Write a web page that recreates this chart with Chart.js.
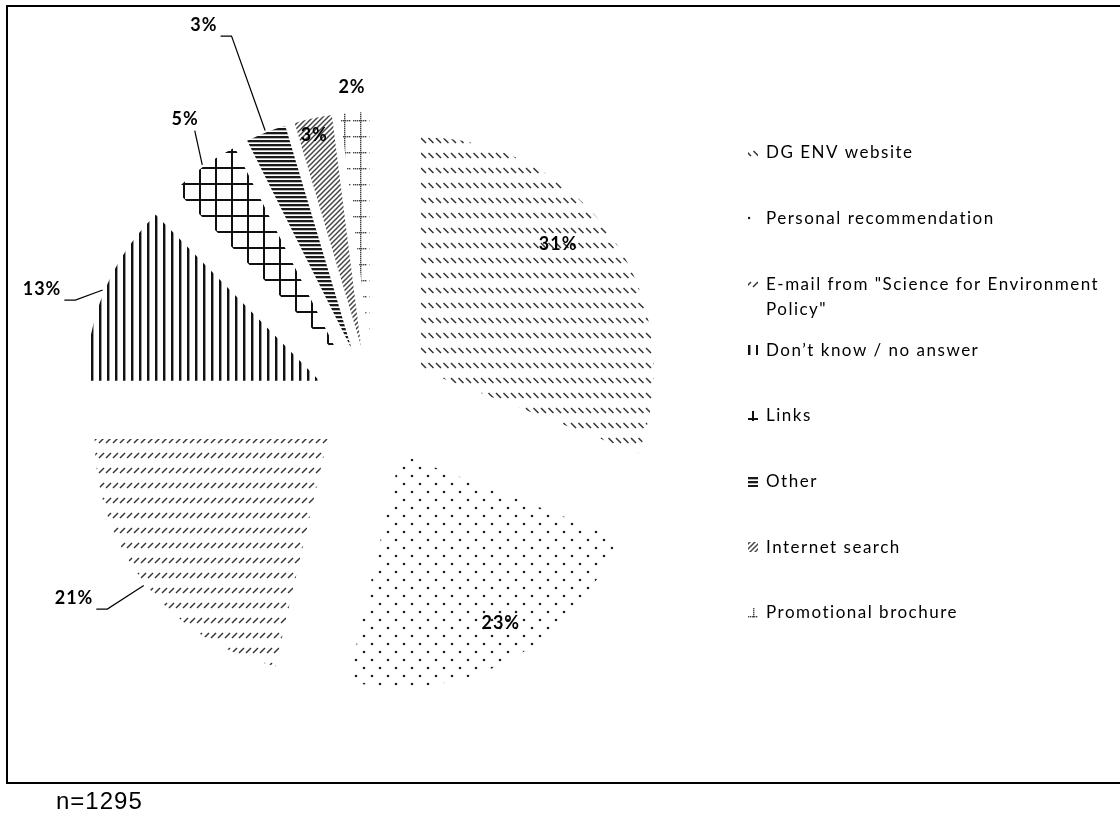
<!DOCTYPE html>
<html>
<head>
<meta charset="utf-8">
<title>Source of visit</title>
<script src="https://cdn.jsdelivr.net/npm/chart.js@4.4.1/dist/chart.umd.min.js"></script>
<style>
    body { margin: 0; background: #fff; width: 1120px; height: 816px; overflow: hidden; position: relative; }
    #frame { position: absolute; left: 6px; top: 5px; width: 1200px; height: 775px; border: 2px solid #000; border-right: none; }
    #chart { position: absolute; left: 0; top: 0; }
    #note { position: absolute; left: 56px; top: 789px; font: 24px "Liberation Sans", Arial, sans-serif; line-height: 24px; letter-spacing: 1px; color: #000; }
</style>
</head>
<body>
<div id="frame"></div>
<canvas id="chart" width="1120" height="816"></canvas>
<div id="note">n=1295</div>
<script>
// données (ordre de la légende, sens horaire depuis midi)
const categories = [
    'DG ENV website',
    'Personal recommendation',
    'E-mail from "Science for Environment Policy"',
    'Don\u2019t know / no answer',
    'Links',
    'Other',
    'Internet search',
    'Promotional brochure'
];
const shares = [30.8, 22.8, 21.4, 12.6, 5.0, 2.8, 2.6, 2.0];
const shareLabels = shares.map(v => Math.round(v) + '%');

// mise en page
const EXPLODE = 58;
const RADIUS = 233;
const labelShift = [-6.1, -2, 5.4, -3.7, 2.1, -2.5, -0.5, -0.2];   // degrés, sens horaire
const labelDist = [244, 255, 357, 350, 340, 414, 274, 317];         // px depuis le centre
const withLeader = [false, false, true, true, true, true, false, false];
const LABEL_FONT = 'bold 18px Lato, "DejaVu Sans", sans-serif';
const LEGEND_FONT = '17px Lato, "DejaVu Sans", sans-serif';
const LEGEND = { box: 10, boxX: 748, textX: 766, top: 153, step: 65.7, lineHeight: 25, maxWidth: 335 };

function makeTile(w, h, draw) {
    const c = document.createElement('canvas');
    c.width = w;
    c.height = h;
    draw(c.getContext('2d'));
    return c;
}

function seg(g, x1, y1, x2, y2) {
    g.beginPath();
    g.moveTo(x1, y1);
    g.lineTo(x2, y2);
    g.stroke();
}

const tiles = [
    // DG ENV : rangées de petits traits "\"
    makeTile(15, 15, g => {
        g.strokeStyle = '#333'; g.lineWidth = 1.5;
        [0, 7.5].forEach(x => seg(g, x + 1, 3, x + 6, 8));
    }),
    // recommandation : points en quinconce
    makeTile(16, 16, g => {
        g.fillStyle = '#222';
        [[4, 4], [12, 12]].forEach(p => { g.beginPath(); g.arc(p[0], p[1], 1.3, 0, Math.PI * 2); g.fill(); });
    }),
    // e-mail : rangées de petits traits "/"
    makeTile(14, 15, g => {
        g.strokeStyle = '#333'; g.lineWidth = 1.5;
        [0, 7].forEach(x => seg(g, x + 1, 8, x + 6, 3));
    }),
    // ne sait pas : lignes verticales
    makeTile(8, 8, g => {
        g.fillStyle = '#111'; g.fillRect(3, 0, 2, 8);
        g.fillStyle = '#999'; g.fillRect(5, 0, 1, 8);
    }),
    // liens : quadrillage
    makeTile(16, 16, g => {
        g.fillStyle = '#111';
        g.fillRect(7, 0, 2, 16);
        g.fillRect(0, 7, 16, 2);
    }),
    // autre : lignes horizontales serrées
    makeTile(4, 4, g => {
        g.fillStyle = '#1a1a1a'; g.fillRect(0, 0, 4, 2);
        g.fillStyle = '#888'; g.fillRect(0, 2, 4, 0.6);
    }),
    // recherche internet : diagonales serrées
    makeTile(5, 5, g => {
        g.strokeStyle = '#444'; g.lineWidth = 1.5;
        seg(g, -1, 1, 1, -1);
        seg(g, 0, 5, 5, 0);
        seg(g, 4, 6, 6, 4);
    }),
    // brochure : croix en pointillés
    makeTile(16, 16, g => {
        g.fillStyle = '#444';
        for (let x = 1; x < 15; x += 2) g.fillRect(x, 8, 1.4, 1.4);
        for (let y = 0; y < 16; y += 2) g.fillRect(8, y, 1.4, 1.4);
    })
];
const fills = tiles.map(t => t.getContext('2d').createPattern(t, 'repeat'));

// éclatement des secteurs : chaque secteur est déplacé le long de son angle médian
const explodePlugin = {
    id: 'explode',
    beforeDatasetsDraw(chart) {
        const a = chart.chartArea;
        const cx = (a.left + a.right) / 2;
        const cy = (a.top + a.bottom) / 2;
        chart.getDatasetMeta(0).data.forEach(arc => {
            const mid = (arc.startAngle + arc.endAngle) / 2;
            arc.x = cx + Math.cos(mid) * EXPLODE;
            arc.y = cy + Math.sin(mid) * EXPLODE;
        });
    }
};

// étiquettes de pourcentage + lignes de rappel
const labelPlugin = {
    id: 'pctLabels',
    afterDatasetsDraw(chart) {
        const ctx = chart.ctx;
        const a = chart.chartArea;
        const cx = (a.left + a.right) / 2;
        const cy = (a.top + a.bottom) / 2;
        ctx.save();
        ctx.font = LABEL_FONT;
        ctx.letterSpacing = '1px';
        ctx.textAlign = 'center';
        ctx.textBaseline = 'middle';
        ctx.fillStyle = '#000';
        ctx.strokeStyle = '#000';
        ctx.lineWidth = 1.2;
        chart.getDatasetMeta(0).data.forEach((arc, i) => {
            const mid = (arc.startAngle + arc.endAngle) / 2;
            const ang = mid + labelShift[i] * Math.PI / 180;
            const lx = cx + Math.cos(ang) * labelDist[i];
            const ly = cy + Math.sin(ang) * labelDist[i];
            const text = shareLabels[i];
            ctx.fillText(text, lx, ly);
            if (!withLeader[i]) return;
            const w = ctx.measureText(text).width;
            const left = lx - w / 2, right = lx + w / 2, bottom = ly + 7;
            const ax = arc.x + Math.cos(mid) * (arc.outerRadius + 2);
            const ay = arc.y + Math.sin(mid) * (arc.outerRadius + 2);
            ctx.beginPath();
            if (Math.abs(ax - lx) < w) {
                const sx = Math.min(Math.max(ax, left + 4), right - 4);
                ctx.moveTo(sx, bottom + 4);
                ctx.lineTo(ax, ay);
            } else {
                ctx.moveTo(right + 3, bottom + 4);
                ctx.lineTo(right + 14, bottom + 4);
                ctx.lineTo(ax, ay);
            }
            ctx.stroke();
        });
        ctx.restore();
    }
};

function wrapText(ctx, text, maxWidth) {
    const words = text.split(' ');
    const lines = [];
    let line = '';
    words.forEach(word => {
        const test = line ? line + ' ' + word : word;
        if (line && ctx.measureText(test).width > maxWidth) {
            lines.push(line);
            line = word;
        } else {
            line = test;
        }
    });
    lines.push(line);
    return lines;
}

// légende à droite, avec retour à la ligne
const legendPlugin = {
    id: 'sideLegend',
    afterDraw(chart) {
        const ctx = chart.ctx;
        ctx.save();
        ctx.font = LEGEND_FONT;
        ctx.letterSpacing = '1.5px';
        ctx.textBaseline = 'middle';
        chart.data.labels.forEach((label, i) => {
            const y = LEGEND.top + i * LEGEND.step;
            const bx = LEGEND.boxX, by = Math.round(y - LEGEND.box / 2);
            // échantillon du motif, calé sur la case
            ctx.save();
            ctx.beginPath();
            ctx.rect(bx, by, LEGEND.box, LEGEND.box);
            ctx.clip();
            ctx.translate(bx - 3, by);
            ctx.fillStyle = fills[i];
            ctx.fillRect(0, 0, LEGEND.box + 3, LEGEND.box);
            ctx.restore();
            ctx.fillStyle = '#000';
            wrapText(ctx, label, LEGEND.maxWidth).forEach((line, k) => {
                ctx.fillText(line, LEGEND.textX, y + k * LEGEND.lineHeight);
            });
        });
        ctx.restore();
    }
};

new Chart(document.getElementById('chart'), {
    type: 'pie',
    data: {
        labels: categories,
        datasets: [{
            data: shares,
            backgroundColor: fills,
            borderWidth: 0,
            radius: RADIUS
        }]
    },
    options: {
        responsive: false,
        animation: false,
        layout: { padding: { left: 0, top: 0, right: 374, bottom: 10 } },
        plugins: {
            legend: { display: false },
            tooltip: { enabled: false }
        }
    },
    plugins: [explodePlugin, labelPlugin, legendPlugin]
});
</script>
</body>
</html>
